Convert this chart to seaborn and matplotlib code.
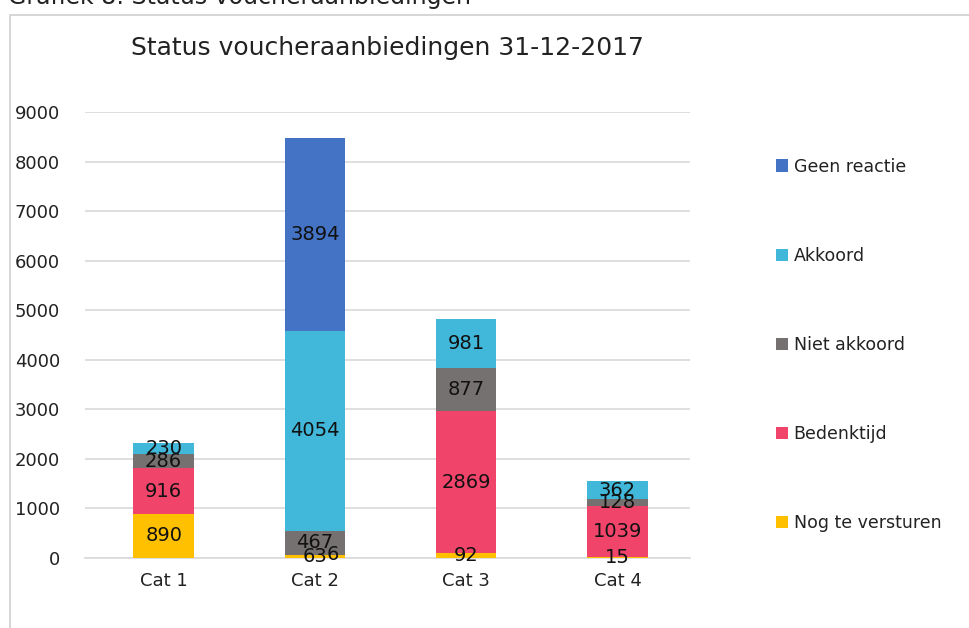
import numpy as np
import pandas as pd
import matplotlib
matplotlib.use("Agg")
import matplotlib.pyplot as plt
import seaborn as sns
from matplotlib.patches import Rectangle, Patch

# ==========================================
# DATA
# ==========================================

categories = ["Cat 1", "Cat 2", "Cat 3", "Cat 4"]
series = ["Nog te versturen", "Bedenktijd", "Niet akkoord", "Akkoord", "Geen reactie"]

nog_te_versturen = [890, 63, 92, 15]
bedenktijd = [916, 6, 2869, 1039]
niet_akkoord = [286, 467, 877, 128]
akkoord = [230, 4054, 981, 362]
geen_reactie = [0, 3894, 0, 0]

colors = {
    "Nog te versturen": "#FFC000",
    "Bedenktijd": "#F0446A",
    "Niet akkoord": "#767171",
    "Akkoord": "#41B7D9",
    "Geen reactie": "#4472C4",
}

df = pd.DataFrame({
    "Categorie": categories,
    "Nog te versturen": nog_te_versturen,
    "Bedenktijd": bedenktijd,
    "Niet akkoord": niet_akkoord,
    "Akkoord": akkoord,
    "Geen reactie": geen_reactie,
})

# cumulative sums for stacking
cum = df[series].cumsum(axis=1)
bottoms = cum - df[series]

# ==========================================
# PLOT
# ==========================================

sns.set_style("white")
plt.rcParams["font.family"] = ["DejaVu Sans"]

fig = plt.figure(figsize=(9.69, 6.28), dpi=100)
ax = fig.add_axes([0.0877, 0.1115, 0.6245, 0.7102])

# draw tallest cumulative first so lower segments sit on top
for s in reversed(series):
    sns.barplot(x=df["Categorie"], y=cum[s], color=colors[s], width=0.4,
                saturation=1, linewidth=0, ax=ax, zorder=3)

# value labels (tiny Cat 2 segment label sits to the right like in Excel)
nudge = {("Bedenktijd", 1): (0.12, 0)}
for s in series:
    for i, cat in enumerate(categories):
        v = df.loc[i, s]
        if v == 0:
            continue
        dx, dy = nudge.get((s, i), (0, 0))
        ax.text(i + dx, bottoms.loc[i, s] + v / 2 + dy, str(v), ha="center",
                va="center", fontsize=14, color="#111111", zorder=5)

ax.set_ylim(0, 9000)
ax.set_xlim(-0.52, 3.48)
ax.set_yticks(np.arange(0, 9001, 1000))
ax.yaxis.grid(True, color="#D9D9D9", linewidth=1.2, zorder=0)
ax.set_axisbelow(True)
for side in ["top", "right", "left"]:
    ax.spines[side].set_visible(False)
ax.spines["bottom"].set_color("#D9D9D9")
ax.spines["bottom"].set_linewidth(1.2)
ax.tick_params(axis="y", length=0, pad=18, labelsize=13, labelcolor="#222222")
ax.tick_params(axis="x", length=0, pad=10, labelsize=13, labelcolor="#222222")
ax.set_xlabel("")
ax.set_ylabel("")

fig.text(0.4, 0.924, "Status voucheraanbiedingen 31-12-2017", ha="center",
         va="center", fontsize=18, color="#222222")

# caption partly cut off at the top
fig.text(0.008, 1.005, "Grafiek 8: Status voucheraanbiedingen", ha="left",
         va="center", fontsize=17, color="#222222")

# chart frame
fig.patches.append(Rectangle((0.0105, -0.05), 1.1, 1.026, transform=fig.transFigure,
                             fill=False, edgecolor="#D0D0D0", linewidth=1.2))

handles = [Patch(facecolor=colors[s], edgecolor="none") for s in reversed(series)]
fig.legend(handles, list(reversed(series)), loc="upper left",
           bbox_to_anchor=(0.785, 0.774), frameon=False, fontsize=12.5,
           handlelength=0.7, handleheight=0.7, handletextpad=0.3,
           labelspacing=4.1, labelcolor="#222222")

fig.savefig("out.png", dpi=100)
